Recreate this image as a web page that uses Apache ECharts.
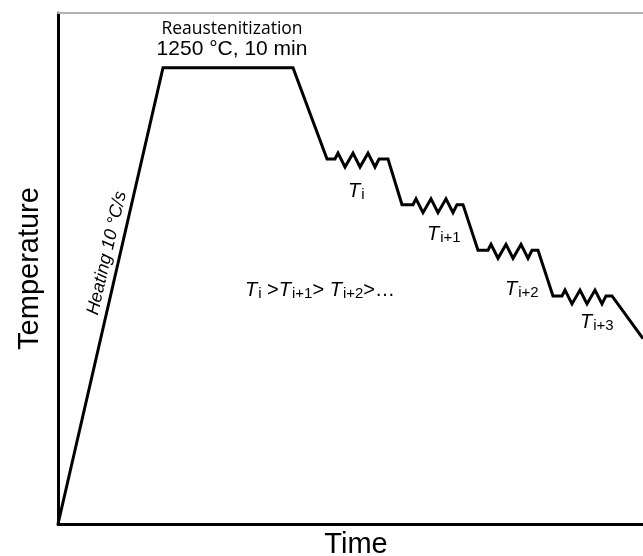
<!DOCTYPE html>
<html>
<head>
<meta charset="utf-8">
<script src="https://cdn.jsdelivr.net/npm/echarts@6/dist/echarts.min.js"></script>
<style>
html,body{margin:0;padding:0;background:#fff;}
#chart{width:643px;height:556px;}
</style>
</head>
<body>
<div id="chart"></div>
<script>
// Time (arbitrary units) and temperature (°C) of the schematic thermal path
var times = [0,105,235,269,277,280,287,295,302,310,317,321,330,344,
             355,358,365,373,380,388,395,399,405,420,
             430,433,440,448,455,463,470,474,480,495,
             504,507,514,522,529,537,544,548,554,585];
var temps = [0,1250,1250,1000,1000,1016,978,1016,978,1016,978,1000,1000,875,
             875,891,853,891,853,891,853,875,875,750,
             750,766,728,766,728,766,728,750,750,625,
             625,641,603,641,603,641,603,625,625,508];

// Annotation anchors (data units) and texts
var annoTimes = [174, 174, 49, 290, 369, 447, 522, 187];
var annoTemps = [1356, 1301, 742, 910, 792, 641, 551, 638];
var annoTexts = [
  'Reaustenitization',
  '1250 °C, 10 min',
  'Heating 10 °C/s',
  '{t|T}{s|i}',
  '{t|T}{s|i+1}',
  '{t|T}{s|i+2}',
  '{t|T}{s|i+3}',
  '{t|T}{s|i}{n| >}{t|T}{s|i+1}{n|> }{t|T}{s|i+2}{n|>…}'
];
var timeRange = [0, 585];
var tempRange = [0, 1400];

var rich = {
  t: {fontFamily: 'Liberation Sans', fontStyle: 'italic', fontSize: 20, lineHeight: 21, verticalAlign: 'top', color: '#000'},
  s: {fontFamily: 'Liberation Sans', fontSize: 15, lineHeight: 16, padding: [7, 0, 0, 1], verticalAlign: 'bottom', color: '#000'},
  n: {fontFamily: 'Liberation Sans', fontSize: 20, lineHeight: 21, verticalAlign: 'top', color: '#000'}
};

var annoData = annoTimes.map(function (t, i) {
  var item = {value: [t, annoTemps[i]]};
  var lbl = {show: true, formatter: annoTexts[i], position: [0, 0], color: '#000', opacity: 1};
  if (i === 0) {
    lbl.fontFamily = 'Open Sans'; lbl.fontSize = 17.5; lbl.align = 'center'; lbl.verticalAlign = 'middle';
  } else if (i === 1) {
    lbl.fontFamily = 'Liberation Sans'; lbl.fontSize = 21; lbl.align = 'center'; lbl.verticalAlign = 'middle';
  } else if (i === 2) {
    lbl.fontFamily = 'Liberation Sans'; lbl.fontStyle = 'italic'; lbl.fontSize = 18;
    lbl.align = 'center'; lbl.verticalAlign = 'middle'; lbl.rotate = 77;
  } else {
    lbl.align = 'left'; lbl.verticalAlign = 'middle'; lbl.rich = rich;
  }
  item.label = lbl;
  return item;
});

var chart = echarts.init(document.getElementById('chart'), null, {renderer: 'canvas'});
chart.setOption({
  animation: false,
  backgroundColor: '#fff',
  grid: {left: 58, right: 0, top: 13, bottom: 32, containLabel: false, outerBoundsMode: 'none'},
  xAxis: [{
    type: 'value', min: timeRange[0], max: timeRange[1],
    name: 'Time', nameLocation: 'middle', nameGap: 6,
    nameTextStyle: {fontFamily: 'Liberation Sans', fontSize: 29, color: '#000', padding: [0, 0, 0, 11]},
    axisLine: {show: true, onZero: false, lineStyle: {color: '#000', width: 3}},
    axisTick: {show: false}, axisLabel: {show: false}, splitLine: {show: false}
  }, {
    type: 'value', position: 'top', min: timeRange[0], max: timeRange[1],
    axisLine: {show: true, onZero: false, lineStyle: {color: '#b0b0b0', width: 2}},
    axisTick: {show: false}, axisLabel: {show: false}, splitLine: {show: false}
  }],
  yAxis: {
    type: 'value', min: tempRange[0], max: tempRange[1],
    name: 'Temperature', nameLocation: 'middle', nameGap: 14,
    nameTextStyle: {fontFamily: 'Liberation Sans', fontSize: 29, color: '#000'},
    axisLine: {show: true, onZero: false, lineStyle: {color: '#000', width: 3}},
    axisTick: {show: false}, axisLabel: {show: false}, splitLine: {show: false}
  },
  series: [{
    type: 'line',
    data: times.map(function (t, i) { return [t, temps[i]]; }),
    showSymbol: false, symbol: 'none',
    lineStyle: {color: '#000', width: 3, join: 'miter'},
    clip: true, z: 3
  }, {
    type: 'scatter',
    data: annoData,
    symbolSize: 0,
    itemStyle: {opacity: 1},
    silent: true,
    z: 4
  }]
});
</script>
</body>
</html>
